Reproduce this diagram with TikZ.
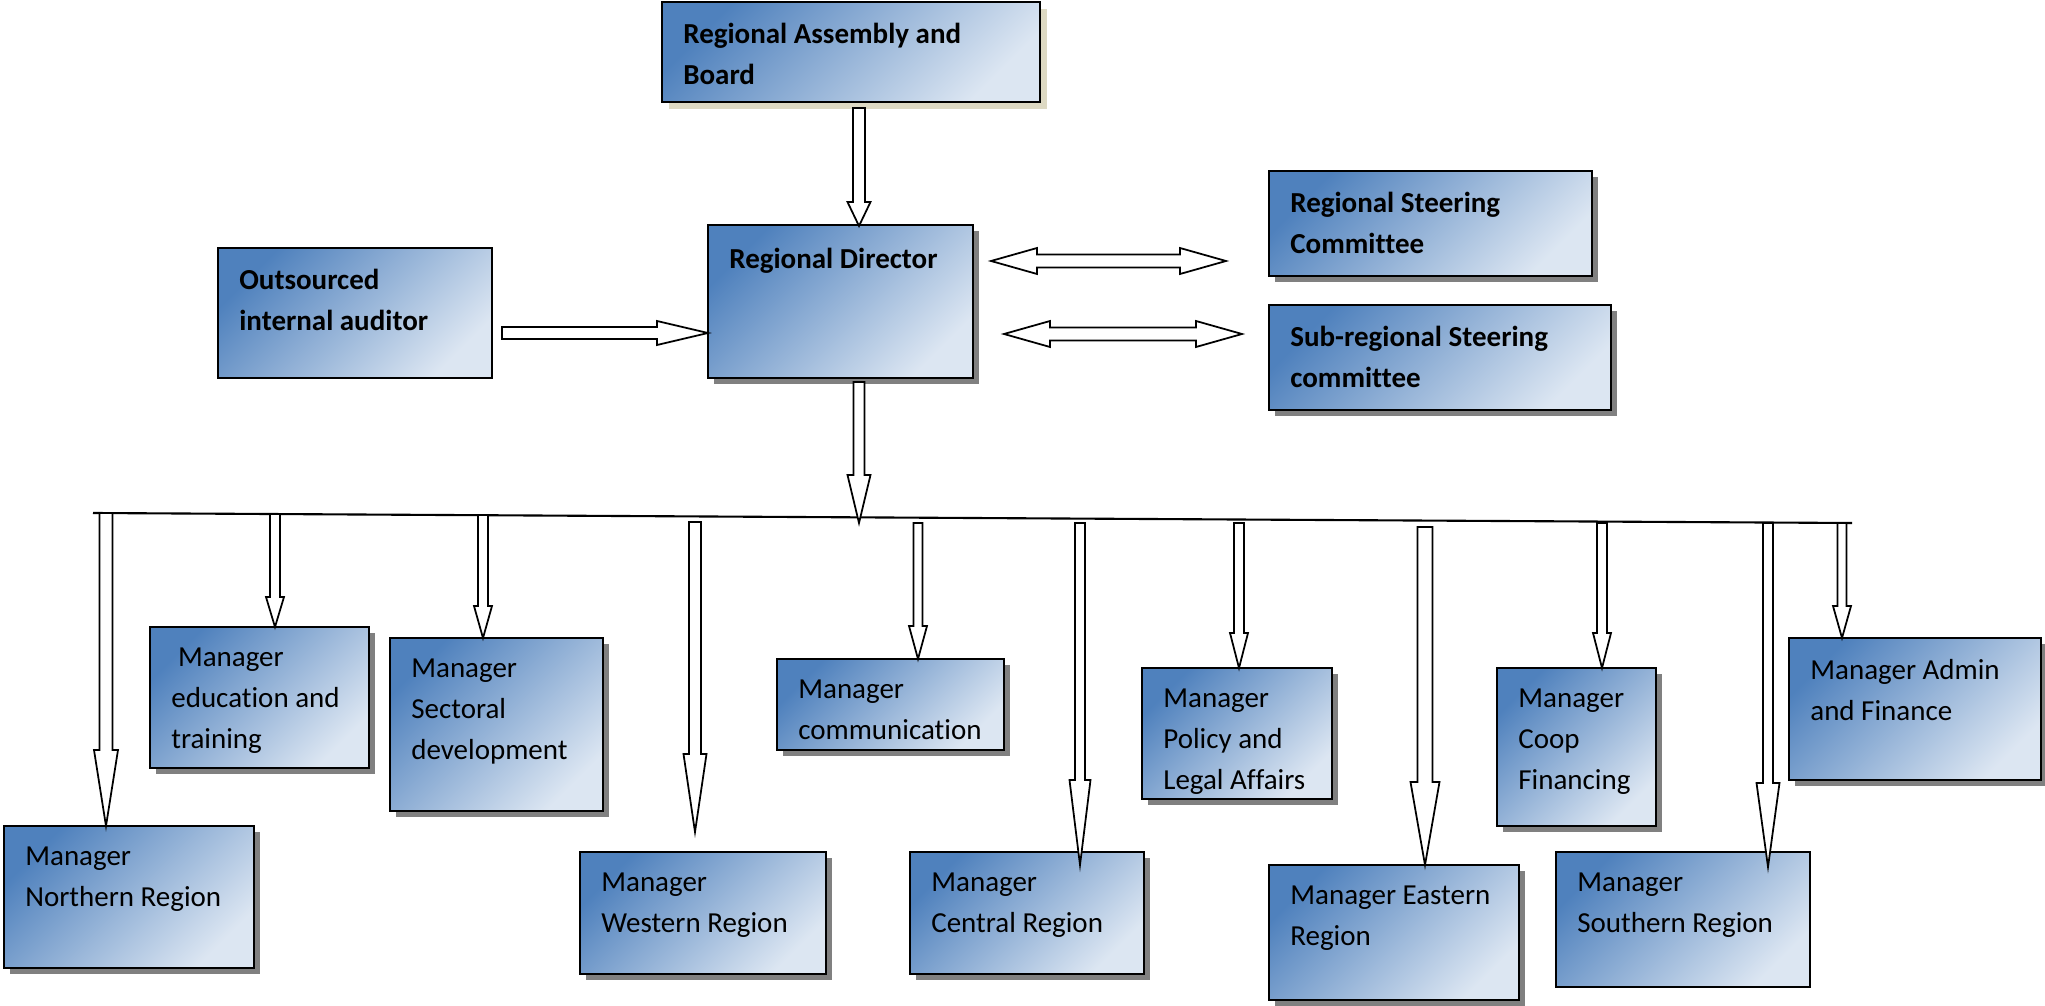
\documentclass[tikz,border=0pt]{standalone}
\usepackage{fontspec}
\setmainfont{Carlito}[Ligatures=NoCommon]
\usetikzlibrary{shadows}
\definecolor{bdark}{HTML}{4F81BD}
\definecolor{blight}{HTML}{DCE6F2}
\definecolor{shgray}{HTML}{808080}
\definecolor{shbeige}{HTML}{DDD9C3}
\tikzset{
  box/.style={draw=black, line width=1.1pt, anchor=north west, inner sep=0pt, outer sep=0pt,
    top color=bdark, bottom color=blight, shading=axis, shading angle=45},
  gshadow/.style={drop shadow={shadow xshift=0.12cm, shadow yshift=-0.12cm, fill=shgray, opacity=1}},
  bshadow/.style={drop shadow={shadow xshift=0.14cm, shadow yshift=-0.14cm, fill=shbeige, opacity=1}},
  noshadow/.style={},
  lbl/.style={anchor=north west, inner sep=0pt, align=left,
    font=\fontsize{16.5}{23.3}\selectfont, execute at begin node={\rule{0pt}{0.75em}}},
  blbl/.style={lbl, font=\fontsize{16.5}{23.3}\selectfont\bfseries},
  barrow/.style={draw=black, fill=white, line width=1pt, line join=miter},
  busline/.style={draw=black, line width=1.2pt}
}
% name, x1, y1, x2, y2, shadow style, label style, text
\newcommand\MkBox[8]{%
  \node[box,#6,minimum width={(#4-#2)*0.02cm},minimum height={(#5-#3)*0.02cm}] (#1) at (#2,#3) {};
  \node[#7] (#1-txt) at ([xshift=0.42cm,yshift=-0.42cm]#1.north west) {#8};
}
% x, ytop, yhead, ytip, shaft width, head width
\newcommand\DArrow[6]{%
  \draw[barrow] ({#1-#5/2},#2) -- ({#1+#5/2},#2) -- ({#1+#5/2},#3) -- ({#1+#6/2},#3) -- (#1,#4)
    -- ({#1-#6/2},#3) -- ({#1-#5/2},#3) -- cycle;}
% x1, xhead, xtip, y, shaft width, head width
\newcommand\RArrow[6]{%
  \draw[barrow] (#1,{#4-#5/2}) -- (#2,{#4-#5/2}) -- (#2,{#4-#6/2}) -- (#3,#4) -- (#2,{#4+#6/2})
    -- (#2,{#4+#5/2}) -- (#1,{#4+#5/2}) -- cycle;}
% xl, xr, y, shaft width, head width, head length
\newcommand\LRArrow[6]{%
  \draw[barrow] (#1,#3) -- ({#1+#6},{#3-#5/2}) -- ({#1+#6},{#3-#4/2}) -- ({#2-#6},{#3-#4/2})
    -- ({#2-#6},{#3-#5/2}) -- (#2,#3) -- ({#2-#6},{#3+#5/2}) -- ({#2-#6},{#3+#4/2})
    -- ({#1+#6},{#3+#4/2}) -- ({#1+#6},{#3+#5/2}) -- cycle;}
\begin{document}
\begin{tikzpicture}[x=0.02cm, y=-0.02cm]
\useasboundingbox (0,0) rectangle (2045,1006);
% bus line
\coordinate (busL) at (93,513);
\coordinate (busR) at (1852,523);
\draw[busline] (busL) -- (busR);
% boxes
\MkBox{asm}{662}{2}{1040}{102}{bshadow}{blbl}{Regional Assembly and\\Board}
\MkBox{dir}{708}{225}{973}{378}{gshadow}{blbl}{Regional Director}
\MkBox{aud}{218}{248}{492}{378}{noshadow}{blbl}{Outsourced\\internal auditor}
\MkBox{rsc}{1269}{171}{1592}{276}{gshadow}{blbl}{Regional Steering\\Committee}
\MkBox{srsc}{1269}{305}{1611}{410}{gshadow}{blbl}{Sub-regional Steering\\committee}
\MkBox{north}{4}{826}{254}{968}{gshadow}{lbl}{Manager\\Northern Region}
\MkBox{edu}{150}{627}{369}{768}{gshadow}{lbl}{\hspace{0.23em}Manager\\education and\\training}
\MkBox{sect}{390}{638}{603}{811}{gshadow}{lbl}{Manager\\Sectoral\\development}
\MkBox{west}{580}{852}{826}{974}{gshadow}{lbl}{Manager\\Western Region}
\MkBox{comm}{777}{659}{1004}{750}{gshadow}{lbl}{Manager\\communication}
\MkBox{central}{910}{852}{1144}{974}{gshadow}{lbl}{Manager\\Central Region}
\MkBox{policy}{1142}{668}{1332}{799}{gshadow}{lbl}{Manager\\Policy and\\Legal Affairs}
\MkBox{east}{1269}{865}{1519}{1000}{gshadow}{lbl}{Manager Eastern\\Region}
\MkBox{coop}{1497}{668}{1656}{826}{gshadow}{lbl}{Manager\\Coop\\Financing}
\MkBox{south}{1556}{852}{1810}{987}{noshadow}{lbl}{Manager\\Southern Region}
\MkBox{admin}{1789}{638}{2041}{780}{gshadow}{lbl}{Manager Admin\\and Finance}
% top arrows
\DArrow{859}{108}{202}{226}{12}{23}
\RArrow{502}{657}{708}{333}{12}{24}
\LRArrow{991}{1226}{261}{13}{26}{46}
\LRArrow{1004}{1242}{334}{13}{26}{46}
\DArrow{859}{382}{475}{523}{11}{23}
% arrows from bus
\DArrow{106}{513}{750}{826}{13}{24}
\DArrow{275}{514}{597}{627}{10}{18}
\DArrow{483}{515}{606}{638}{10}{18}
\DArrow{695}{522}{754}{832}{12}{23}
\DArrow{918}{523}{626}{659}{9}{18}
\DArrow{1080}{523}{780}{865}{10}{21}
\DArrow{1239}{523}{633}{668}{10}{18}
\DArrow{1425}{527}{782}{865}{15}{29}
\DArrow{1602}{523}{633}{668}{10}{18}
\DArrow{1768}{523}{783}{867}{10}{23}
\DArrow{1842}{523}{606}{638}{9}{18}
\end{tikzpicture}
\end{document}
